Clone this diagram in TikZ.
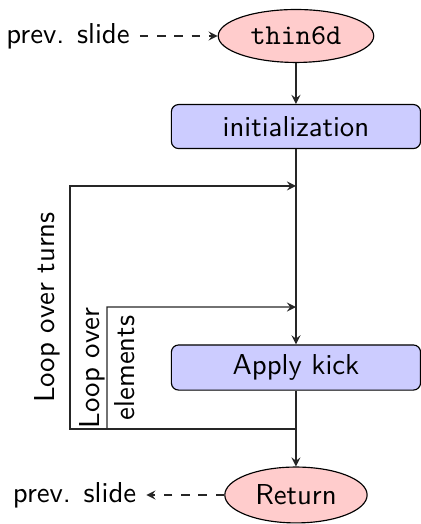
\documentclass[tikz,border=0pt]{standalone}
\usepackage{tikz}
\usetikzlibrary{shapes.geometric,positioning}

\begin{document}
\begin{tikzpicture}[font=\sffamily,>=stealth,
  term/.style={ellipse,draw,fill=red!20},
  proc/.style={rectangle,draw,fill=blue!20,rounded corners=2.5pt,minimum width=3.04cm,minimum height=0.537cm},
  flow/.style={->,draw=black!85}]
\useasboundingbox (0,0) rectangle (5.136,6.393);
\node[term] (start) at (3.611,5.954) {\texttt{thin6d}};
\node[proc] (init) at (3.611,4.849) {initialization};
\node[proc] (kick) at (3.611,1.909) {Apply kick};
\node[term] (ret) at (3.611,0.354) {Return};
\node[left=0.95cm of start] (prevIn) {prev. slide};
\node[left=0.95cm of ret] (prevOut) {prev. slide};
% where the loops leave and rejoin the main line
\coordinate (turnsIn) at (3.611,4.124);
\coordinate (elemIn) at (3.611,2.647);
\coordinate (loopOut) at (3.611,1.159);
\draw[flow,dashed] (prevIn) -- (start);
\draw[flow] (start) -- (init);
\draw[flow] (init) -- (kick);
\draw[flow] (kick) -- (ret);
\draw[flow,dashed] (ret) -- (prevOut);
\draw[flow] (loopOut) -- ++(-2.757,0)
   -- node[above,sloped]{Loop over turns} ++(0,2.965) -- (turnsIn);
\draw[flow] (loopOut) -- ++(-2.306,0)
   -- node[sloped,align=center]{Loop over\\elements} ++(0,1.488) -- (elemIn);
\end{tikzpicture}
\end{document}
